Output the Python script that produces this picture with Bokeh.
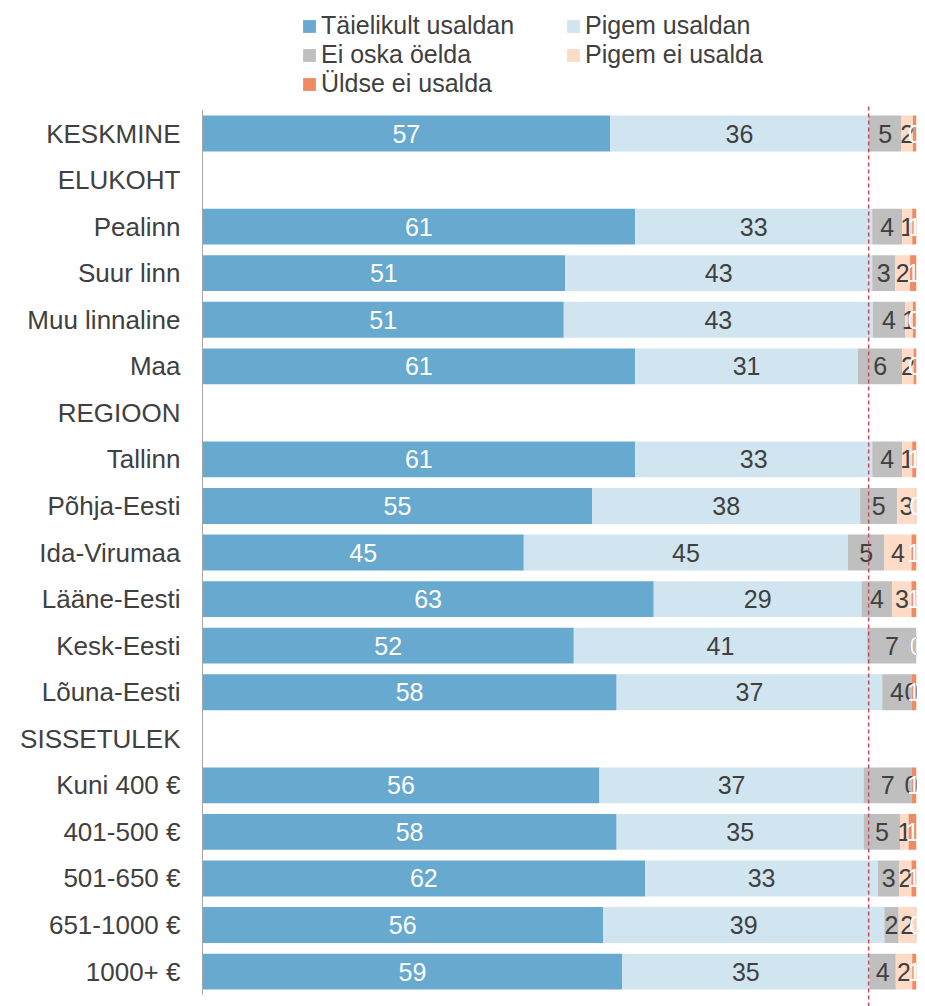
from bokeh.plotting import figure
from bokeh.models import ColumnDataSource, Range1d, Legend, LegendItem, FixedTicker
from bokeh.embed import file_html
from bokeh.resources import INLINE
from bokeh.core.properties import value

categories = ["KESKMINE", "ELUKOHT", "Pealinn", "Suur linn", "Muu linnaline", "Maa",
              "REGIOON", "Tallinn", "Põhja-Eesti", "Ida-Virumaa", "Lääne-Eesti",
              "Kesk-Eesti", "Lõuna-Eesti", "SISSETULEK", "Kuni 400 €", "401-500 €",
              "501-650 €", "651-1000 €", "1000+ €"]
headers = ["ELUKOHT", "REGIOON", "SISSETULEK"]

series = ["Täielikult usaldan", "Pigem usaldan", "Ei oska öelda", "Pigem ei usalda", "Üldse ei usalda"]
colors = ["#67a9cf", "#d1e5f0", "#bfbfbf", "#fddbc7", "#ef8a62"]
label_colors = ["white", "#404040", "#404040", "#404040", "white"]

N = None
taielikult = [57.1, N, 60.6, 50.8, 50.6, 60.6, N, 60.6, 54.6, 45.0, 63.2, 52.0, 58.0, N, 55.6, 58.0, 62.0, 56.1, 58.8]
pigem_usaldan = [36.2, N, 33.2, 43.0, 43.3, 31.2, N, 33.2, 37.5, 45.4, 29.1, 41.1, 37.2, N, 37.0, 34.6, 32.6, 39.4, 34.6]
ei_oska = [4.6, N, 4.2, 3.2, 4.5, 6.2, N, 4.2, 5.2, 5.1, 4.3, 6.9, 4.1, N, 6.7, 5.1, 3.0, 2.0, 3.7]
pigem_ei = [1.6, N, 1.4, 2.1, 1.1, 1.6, N, 1.4, 2.6, 3.8, 2.7, 0.0, 0.0, N, 0.0, 1.2, 1.7, 2.4, 2.3]
uldse_ei = [0.5, N, 0.6, 0.9, 0.4, 0.4, N, 0.6, 0.1, 0.7, 0.7, 0.0, 0.7, N, 0.7, 1.1, 0.7, 0.1, 0.6]

all_series = [taielikult, pigem_usaldan, ei_oska, pigem_ei, uldse_ei]

n = len(categories)
y_bottom = n - 1 + 0.75
y_top = -2.857
p = figure(width=925, height=1006, output_backend="svg", toolbar_location=None,
           x_range=Range1d(-0.14, 100), y_range=Range1d(y_bottom, y_top),
           x_axis_location=None, min_border_left=201, min_border_right=9,
           min_border_top=0, min_border_bottom=0)
p.outline_line_color = None
p.xgrid.visible = False
p.ygrid.visible = False

rows = [i for i, c in enumerate(categories) if c not in headers]
ys = [float(i) for i in rows]
cum = [0.0] * len(rows)
renderers = []
for k, (name, vals) in enumerate(zip(series, all_series)):
    v = [vals[i] for i in rows]
    left = cum[:]
    right = [a + b for a, b in zip(cum, v)]
    mid = [(a + b) / 2 for a, b in zip(left, right)]
    txt = [str(int(round(x))) for x in v]
    src = ColumnDataSource(dict(y=ys, left=left, right=right, mid=mid, txt=txt))
    r = p.hbar(y="y", left="left", right="right", height=0.77, source=src,
               fill_color=colors[k], line_color=None)
    renderers.append((name, r, src, k))
    cum = right

for name, r, src, k in renderers:
    p.text(x="mid", y="y", text="txt", source=src, text_align="center",
           text_baseline="middle", text_font=value("Liberation Sans"),
           text_font_size="25px", text_color=label_colors[k])

# category axis line spanning only the rows
p.segment(x0=[0], y0=[-0.5], x1=[0], y1=[n - 0.5], line_color="#a6a6a6", line_width=1)

# reference line at the average's positive share
ref = taielikult[0] + pigem_usaldan[0]
p.segment(x0=[ref], y0=[-0.58], x1=[ref], y1=[y_bottom], line_color="#c9485b",
          line_width=1.5, line_dash="4 3")

yax = p.yaxis[0]
yax.ticker = FixedTicker(ticks=list(range(n)))
yax.major_label_overrides = {i: c for i, c in enumerate(categories)}
yax.major_tick_line_color = None
yax.minor_tick_line_color = None
yax.major_tick_out = 0
yax.major_tick_in = 0
yax.axis_line_color = None
yax.major_label_standoff = 21
yax.major_label_text_font = "Liberation Sans"
yax.major_label_text_font_size = "26px"
yax.major_label_text_color = "#404040"

items = [LegendItem(label=name, renderers=[r]) for name, r, src, k in renderers]
legend = Legend(items=items, orientation="horizontal", ncols=2,
                location=(100, 908), glyph_width=16, glyph_height=16,
                label_standoff=4, label_width=244, label_height=26, spacing=0,
                padding=0, margin=0, border_line_color=None,
                background_fill_alpha=0,
                label_text_font="Liberation Sans", label_text_font_size="25px",
                label_text_color="#404040")
p.add_layout(legend, "center")

open("out.html", "w").write(file_html(p, INLINE))
